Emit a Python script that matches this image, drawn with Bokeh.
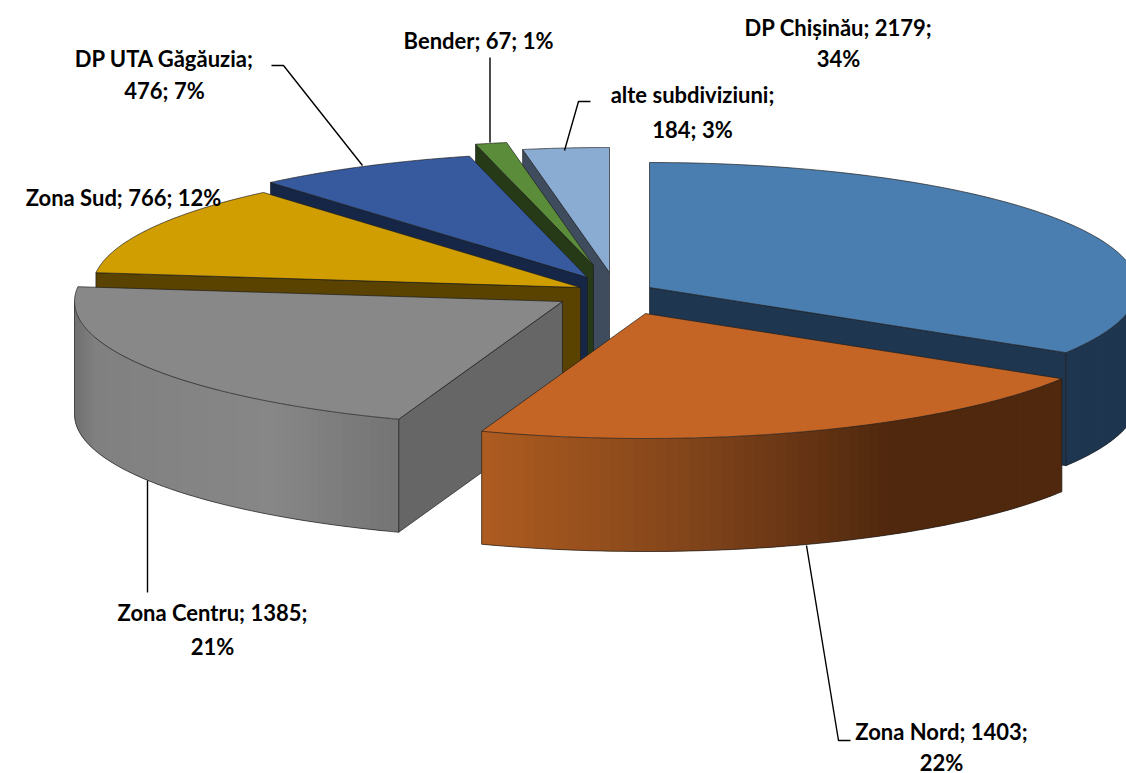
import numpy as np
from bokeh.core.properties import value
from bokeh.embed import file_html
from bokeh.models import Range1d
from bokeh.plotting import figure
from bokeh.resources import INLINE

# ---- data ----
NAMES = ["DP Chișinău", "Zona Nord", "Zona Centru", "Zona Sud", "DP UTA Găgăuzia", "Bender", "alte subdiviziuni"]
VALUES = [2179, 1403, 1385, 766, 476, 67, 184]

# ---- styling / layout ----
TOP = ["#4A7EB0", "#C46525", "#888888", "#D09E00", "#375A9F", "#5A8C3A", "#8AABD2"]
WALL = ["#1F3650", "#50280E", "#666666", "#5A4300", "#162647", "#263A17", "#3E4C5E"]
# x-colour stops of the curved outer wall's shading
WALL_STOPS = {
    0: [(1000, "#1F3650"), (1200, "#1F3650")],
    1: [(480, "#AE5C20"), (700, "#7F431A"), (890, "#50280E"), (1060, "#50280E")],
    2: [(74, "#707070"), (95, "#808080"), (270, "#878787"), (398, "#747474")],
}
APEX = [(649, 287), (645, 313), (562, 301), (580, 287), (587, 277), (593, 265), (609, 272)]
RX, RY, DEPTH = 488, 125, 113
PAINT_ORDER = [6, 5, 4, 3, 0, 2, 1]
OUTLINE = "#1c1c1c"
FONT = "Lato"
FONT_PX = 22
# label line centres; a slice's text is broken after its "break" part count
LABEL_POS = [[(838, 27), (838, 58)], [(941, 731), (941, 762)], [(212, 612), (212, 646)],
             [(123, 197)], [(164, 58), (164, 90)], [(478, 40)], [(692, 94), (692, 129)]]
LABEL_BREAK = [2, 2, 2, 3, 1, 3, 1]
LEADERS = [
    ([271, 283, 362], [65, 65, 165]),
    ([489.5, 489.5], [57, 142]),
    ([590, 578, 564], [101, 101, 150]),
    ([147, 147], [480, 592]),
    ([806, 838, 850], [545, 740, 740]),
]

total = sum(VALUES)
bounds = np.concatenate([[0], np.cumsum(VALUES) / total * 360.0])


def pt(i, deg):
    a = np.radians(deg)
    return APEX[i][0] + RX * np.sin(a), APEX[i][1] - RY * np.cos(a)


def hex2rgb(c):
    return np.array([int(c[j:j + 2], 16) for j in (1, 3, 5)], dtype=float)


def shade(stops, x):
    xs = [s[0] for s in stops]
    rgb = [np.interp(x, xs, [hex2rgb(s[1])[k] for s in stops]) for k in range(3)]
    return "#%02x%02x%02x" % tuple(int(round(v)) for v in rgb)


p = figure(width=1126, height=773, x_range=Range1d(0, 1126), y_range=Range1d(773, 0),
           toolbar_location=None, output_backend="svg", min_border=0)
p.axis.visible = False
p.grid.visible = False
p.outline_line_color = None
p.background_fill_color = "white"
p.border_fill_color = "white"


def outline_patch(xs, ys, fill):
    p.patch(list(xs), list(ys), fill_color=fill, line_color=OUTLINE, line_width=0.8, line_alpha=0.85)


for i in PAINT_ORDER:
    s, e = bounds[i], bounds[i + 1]
    ax, ay = APEX[i]
    # flat radial walls that face the viewer
    for edge, normal in ((s, s - 90), (e, e + 90)):
        if -np.cos(np.radians(normal)) > 0.01:
            ex, ey = pt(i, edge)
            outline_patch([ax, ex, ex, ax], [ay, ey, ey + DEPTH, ay + DEPTH], WALL[i])
    # curved outer wall
    lo, hi = max(s, 90.0), min(e, 270.0)
    if hi > lo:
        th = np.linspace(lo, hi, 61)
        X, Y = pt(i, th)
        stops = WALL_STOPS.get(i, [(0, WALL[i]), (2000, WALL[i])])
        for k in range(len(th) - 1):
            col = shade(stops, (X[k] + X[k + 1]) / 2)
            # each band runs on under the next one, so that no seam shows
            m = min(k + 2, len(th) - 1)
            xs = list(X[k:m + 1]) + list(X[k:m + 1])[::-1]
            ys = list(Y[k:m + 1]) + list(Y[k:m + 1] + DEPTH)[::-1]
            p.patch(xs, ys, fill_color=col, line_color=None)
        p.line(list(X) + [X[-1]], list(Y + DEPTH) + [Y[-1]], line_color=OUTLINE, line_width=0.8, line_alpha=0.85)
        p.line([X[0], X[0]], [Y[0], Y[0] + DEPTH], line_color=OUTLINE, line_width=0.8, line_alpha=0.85)
    # top face
    th = np.linspace(s, e, 90)
    X, Y = pt(i, th)
    outline_patch([ax] + list(X), [ay] + list(Y), TOP[i])

for lx, ly in LEADERS:
    p.line(lx, ly, line_color="black", line_width=1.4)

for i, name in enumerate(NAMES):
    parts = [f"{name};", f"{VALUES[i]};", f"{round(VALUES[i] / total * 100)}%"]
    cut = LABEL_BREAK[i]
    lines = [" ".join(parts[:cut])]
    if cut < 3:
        lines.append(" ".join(parts[cut:]))
    for (tx, ty), line in zip(LABEL_POS[i], lines):
        p.text([tx], [ty], text=[line], text_font=value(FONT), text_font_style="bold",
               text_font_size=f"{FONT_PX}px", text_align="center", text_baseline="middle",
               text_color="black")

open("out.html", "w").write(file_html(p, INLINE))
